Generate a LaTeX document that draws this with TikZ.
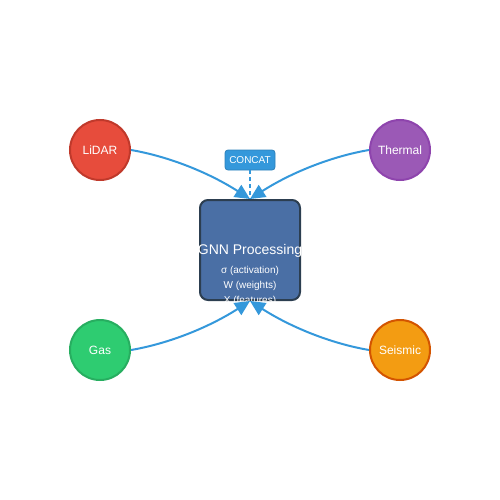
\documentclass[tikz,border=0pt]{standalone}
\usepackage{fontspec}
\setmainfont{Liberation Sans}
\usetikzlibrary{arrows.meta}
\definecolor{lidarF}{HTML}{E74C3C}\definecolor{lidarD}{HTML}{C0392B}
\definecolor{thermF}{HTML}{9B59B6}\definecolor{thermD}{HTML}{8E44AD}
\definecolor{gasF}{HTML}{2ECC71}\definecolor{gasD}{HTML}{27AE60}
\definecolor{seisF}{HTML}{F39C12}\definecolor{seisD}{HTML}{D35400}
\definecolor{boxF}{HTML}{4A6FA5}\definecolor{boxD}{HTML}{2C3E50}
\definecolor{flow}{HTML}{3498DB}
\begin{document}
\begin{tikzpicture}[x=1pt,y=-1pt,
  sensor/.style={circle,minimum size=60pt,inner sep=0pt,line width=2pt,text=white,font=\fontsize{12}{14}\selectfont},
  flowline/.style={draw=flow,line width=2pt,-{Triangle[length=15pt,width=14pt]}},
  small/.style={text=white,font=\fontsize{10}{12}\selectfont},
  ]
\useasboundingbox (0,0) rectangle (500,500);
\node[sensor,fill=lidarF,draw=lidarD] (lidar) at (100,150) {LiDAR};
\node[sensor,fill=thermF,draw=thermD] (thermal) at (400,150) {Thermal};
\node[sensor,fill=gasF,draw=gasD] (gas) at (100,350) {Gas};
\node[sensor,fill=seisF,draw=seisD] (seismic) at (400,350) {Seismic};
\node[draw=boxD,fill=boxF,line width=2pt,rounded corners=8pt,minimum width=100pt,minimum height=100pt,inner sep=0pt] (gnn) at (250,250) {};
\node[text=white,font=\fontsize{14}{16}\selectfont] (gnnt) at (250,251) {GNN Processing};
\node[small] (s1) at (250,271) {σ (activation)};
\node[small] (s2) at (250,286) {W (weights)};
\node[small] (s3) at (250,301) {X (features)};
\node[fill=flow,draw=flow!85!black,line width=0.8pt,rounded corners=3pt,minimum width=50pt,minimum height=20pt,inner sep=0pt,text=white,font=\fontsize{10}{12}\selectfont] (concat) at (250,160) {CONCAT};
\draw[draw=flow,line width=2pt,dash pattern=on 4pt off 3pt] (concat.south) -- (gnn.north);
\draw[flowline] (lidar.east) .. controls (170,156.7) and (210,173.3) .. (gnn.north);
\draw[flowline] (thermal.west) .. controls (330,156.7) and (290,173.3) .. (gnn.north);
\draw[flowline] (gas.east) .. controls (170,343.3) and (210,326.7) .. (gnn.south);
\draw[flowline] (seismic.west) .. controls (330,343.3) and (290,326.7) .. (gnn.south);
\end{tikzpicture}
\end{document}
